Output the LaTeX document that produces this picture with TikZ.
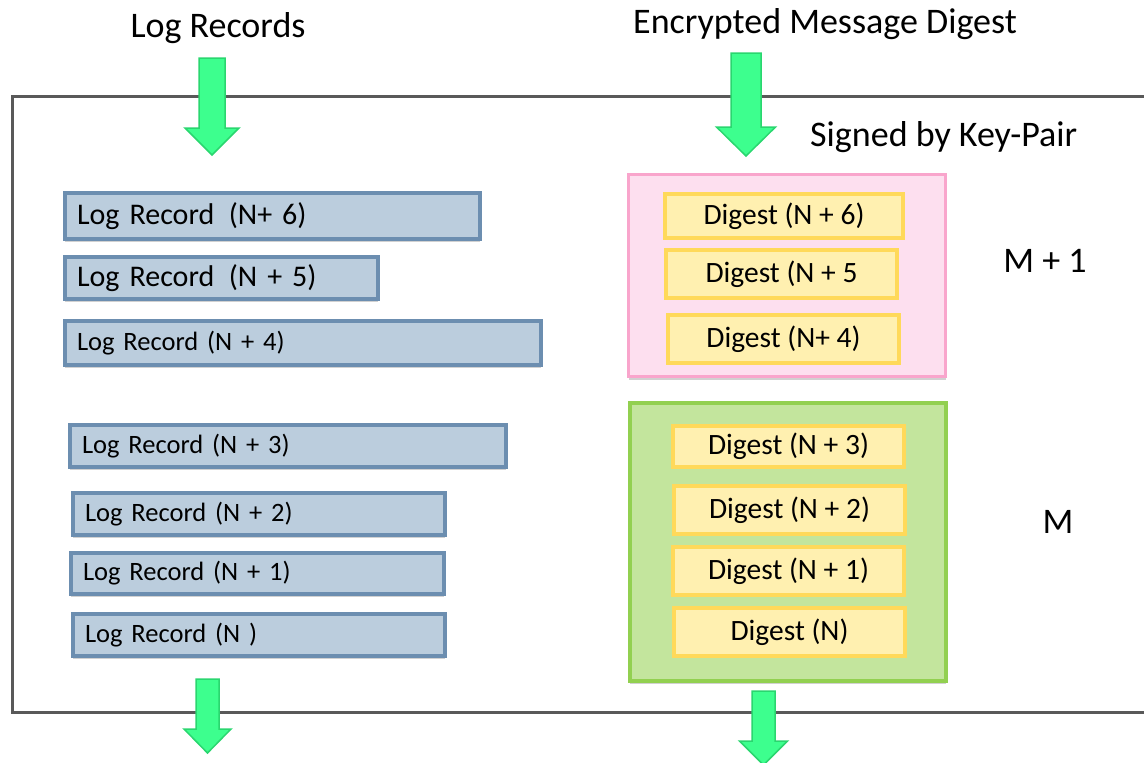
\documentclass[tikz,border=0pt]{standalone}
\usepackage{fontspec}
\setmainfont{Carlito}
\usepackage{tikz}
\usetikzlibrary{shadows}

\definecolor{logfill}{HTML}{BBCDDD}
\definecolor{logedge}{HTML}{6C8EB0}
\definecolor{sigfill}{HTML}{FDDFEF}
\definecolor{sigedge}{HTML}{F9A5CC}
\definecolor{grpfill}{HTML}{C3E59D}
\definecolor{grpedge}{HTML}{92D050}
\definecolor{digfill}{HTML}{FFF0B0}
\definecolor{digedge}{HTML}{FFD95A}
\definecolor{flowfill}{HTML}{3DFF8E}
\definecolor{flowedge}{HTML}{2AD66F}
\definecolor{frameline}{HTML}{595959}

\tikzset{
  soft/.style={drop shadow={shadow xshift=0pt, shadow yshift=-3pt, opacity=0.18, fill=black}},
  logrec/.style={draw=logedge, fill=logfill, line width=4pt, soft,
    inner xsep=12pt, inner ysep=0pt, align=left,
    font=\fontsize{26.5}{32}\selectfont},
  bigrec/.style={logrec, font=\fontsize{30}{36}\selectfont},
  block/.style={line width=4pt, soft, inner sep=0pt},
  digest/.style={draw=digedge, fill=digfill, line width=4pt, inner sep=0pt,
    minimum width=231pt, font=\fontsize{29.5}{35}\selectfont},
  heading/.style={font=\fontsize{36}{43}\selectfont, inner sep=0pt},
  flow/.style={draw=flowedge, fill=flowfill, line width=1.5pt, line join=miter},
}

% block arrow: centre x, top, start of head, tip, half shaft, half head
\newcommand{\flowarrow}[6]{%
  \draw[flow] (#1-#5,#2) -- (#1+#5,#2) -- (#1+#5,#3) -- (#1+#6,#3)
    -- (#1,#4) -- (#1-#6,#3) -- (#1-#5,#3) -- cycle;}

\begin{document}
\begin{tikzpicture}[x=1pt, y=-1pt]
\useasboundingbox (0,0) rectangle (1144,763);

\draw[frameline, line width=3pt] (1144,96) -- (12,96) -- (12,712) -- (1144,712);

\node[heading, anchor=base] (logs) at (218,37) {Log Records};
\node[heading, anchor=base] (enc) at (825,33) {Encrypted Message Digest};
\node[heading, anchor=base west] (signed) at (810,146) {Signed by Key-Pair};

% log records
\node[bigrec, text width=391pt, minimum height=46pt] (lr6) at (272.5,216) {Log Record\hspace{0.15em} (N+ 6)};
\node[bigrec, text width=289pt, minimum height=42pt] (lr5) at (221.5,278) {Log Record\hspace{0.15em} (N + 5)};
\node[logrec, text width=452pt, minimum height=44pt] (lr4) at (303,343) {Log Record (N + 4)};
\node[logrec, text width=412pt, minimum height=42pt] (lr3) at (288,446) {Log Record (N + 3)};
\node[logrec, text width=348pt, minimum height=42pt] (lr2) at (259,514) {Log Record (N + 2)};
\node[logrec, text width=349pt, minimum height=41pt] (lr1) at (257.5,573.5) {Log Record (N + 1)};
\node[logrec, text width=348pt, minimum height=42pt] (lr0) at (259,635) {Log Record (N )};

% signed groups
\node[block, draw=sigedge, fill=sigfill, line width=3pt, minimum width=317pt, minimum height=202pt] (grp1) at (787,275.5) {};
\node[block, draw=grpedge, fill=grpfill, minimum width=316pt, minimum height=278pt] (grp0) at (788,542) {};

\node[digest, minimum width=238pt, minimum height=44pt] (d6) at (784,216) {Digest (N + 6)};
\node[digest, minimum height=48pt] (d5) at (781.5,274) {Digest (N + 5};
\node[digest, minimum height=48pt] (d4) at (783.5,339) {Digest (N+ 4)};
\node[digest, minimum height=41pt] (d3) at (788.5,446.5) {Digest (N + 3)};
\node[digest, minimum height=48pt] (d2) at (789.5,510) {Digest (N + 2)};
\node[digest, minimum height=48pt] (d1) at (788.5,571) {Digest (N + 1)};
\node[digest, minimum height=48pt] (d0) at (789.5,632) {Digest (N)};

\node[heading, anchor=base] (m1) at (1045,272) {M + 1};
\node[heading, anchor=base] (m0) at (1058,533) {M};

\flowarrow{212}{58}{128}{155}{13}{27}
\flowarrow{746}{53}{127}{156}{15}{29.5}
\flowarrow{207.5}{679}{729}{753}{11.5}{23.5}
\flowarrow{763.5}{691}{741}{765}{11.5}{24}
\end{tikzpicture}
\end{document}
